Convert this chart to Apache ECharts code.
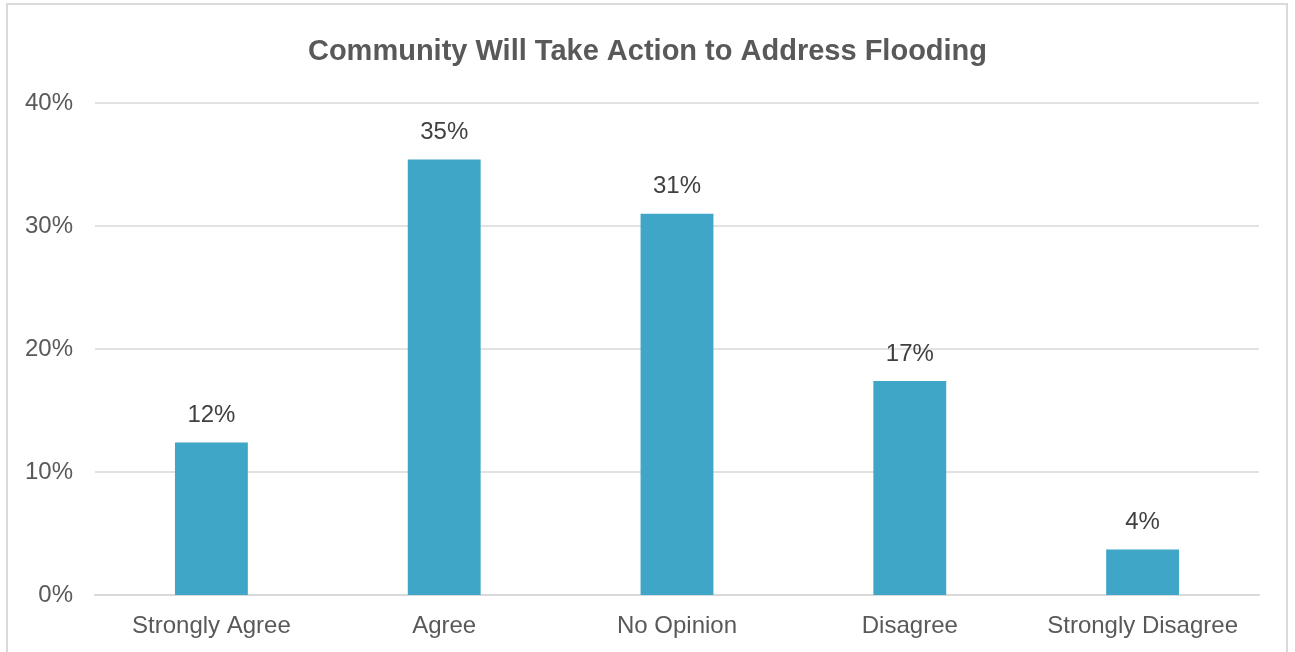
<!DOCTYPE html>
<html><head><meta charset="utf-8">
<script src="https://cdn.jsdelivr.net/npm/echarts@6/dist/echarts.min.js"></script>
<style>html,body{margin:0;padding:0;background:#fff}#c{width:1295px;height:652px}</style>
</head><body><div id="c"></div>
<script>
const title = 'Community Will Take Action to Address Flooding';
const categories = ['Strongly Agree', 'Agree', 'No Opinion', 'Disagree', 'Strongly Disagree'];
const values = [12.4, 35.4, 31.0, 17.4, 3.7];
const yTicks = [0, 10, 20, 30, 40];

const chart = echarts.init(document.getElementById('c'));
chart.setOption({
  animation: false,
  textStyle: { fontFamily: 'Liberation Sans, Arial, sans-serif' },
  graphic: [{
    type: 'rect', silent: true,
    shape: { x: 7, y: 4, width: 1280, height: 700 },
    style: { fill: 'none', stroke: '#d9d9d9', lineWidth: 2 }
  }],
  title: {
    text: title, left: 'center', top: 32,
    textStyle: { fontSize: 29, fontWeight: 'bold', color: '#595959', fontFamily: 'Liberation Sans, Arial, sans-serif' }
  },
  grid: { left: 95, right: 36, top: 103, bottom: 57, containLabel: false },
  xAxis: {
    type: 'category', data: categories,
    axisLine: { lineStyle: { color: '#d9d9d9', width: 2 } },
    axisTick: { show: false },
    axisLabel: { color: '#595959', fontSize: 24, margin: 19, interval: 0, hideOverlap: false }
  },
  yAxis: {
    type: 'value', min: yTicks[0], max: yTicks[yTicks.length - 1], interval: 10,
    axisLine: { show: false }, axisTick: { show: false },
    splitLine: { lineStyle: { color: '#d9d9d9', width: 1.5 } },
    axisLabel: { color: '#595959', fontSize: 24, margin: 22, padding: [5, 0, 0, 0], formatter: v => v + '%' }
  },
  series: [{
    type: 'bar', data: values, barWidth: '31.3%',
    itemStyle: { color: '#3FA6C8' },
    label: {
      show: true, position: 'top', distance: 15, color: '#404040', fontSize: 24,
      formatter: p => Math.round(p.value) + '%'
    }
  }]
});
</script></body></html>
